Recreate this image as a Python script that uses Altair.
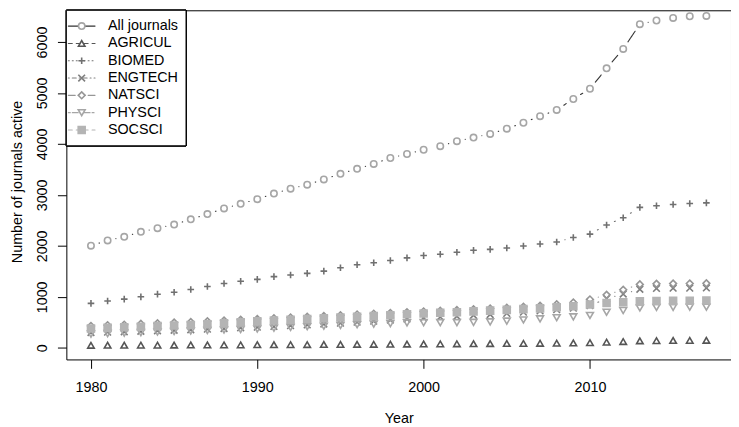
import altair as alt
import pandas as pd
import numpy as np

# ---------------- data ----------------
years = list(range(1980, 2018))
series_names = ["All journals", "AGRICUL", "BIOMED", "ENGTECH", "NATSCI", "PHYSCI", "SOCSCI"]

all_journals = [2004, 2107, 2178, 2275, 2347, 2418, 2521, 2624, 2735, 2825,
                2916, 3026, 3123, 3200, 3304, 3414, 3511, 3608, 3724, 3802,
                3886, 3956, 4054, 4125, 4196, 4299, 4415, 4545, 4667, 4881,
                5082, 5482, 5864, 6349, 6421, 6472, 6504, 6510]
agricul = [50, 51, 52, 53, 54, 55, 56, 57, 58, 59,
           61, 62, 63, 64, 66, 67, 69, 70, 72, 74,
           76, 78, 80, 82, 84, 86, 88, 90, 93, 97,
           102, 112, 124, 138, 142, 145, 147, 148]
biomed = [873, 918, 956, 1001, 1053, 1092, 1144, 1203, 1261, 1306,
          1344, 1397, 1428, 1461, 1505, 1571, 1629, 1668, 1713, 1765,
          1810, 1835, 1874, 1913, 1932, 1959, 1998, 2037, 2076, 2165,
          2231, 2411, 2553, 2755, 2786, 2813, 2832, 2844]
engtech = [300, 308, 316, 325, 335, 345, 355, 367, 380, 393,
           405, 420, 435, 450, 468, 485, 505, 525, 545, 565,
           590, 605, 620, 640, 655, 675, 700, 725, 750, 780,
           830, 965, 1055, 1150, 1165, 1170, 1172, 1175]
natsci = [430, 445, 455, 470, 480, 495, 505, 520, 535, 550,
          565, 580, 595, 610, 625, 640, 655, 670, 685, 700,
          715, 725, 740, 755, 770, 785, 805, 825, 855, 890,
          950, 1040, 1140, 1245, 1255, 1260, 1262, 1265]
physci = [270, 280, 290, 300, 310, 320, 330, 340, 350, 360,
          370, 385, 400, 415, 425, 440, 455, 465, 475, 490,
          495, 495, 495, 500, 510, 525, 548, 568, 592, 608,
          635, 698, 732, 782, 792, 795, 797, 798]
socsci = [380, 392, 403, 415, 426, 438, 450, 462, 480, 500,
          520, 535, 550, 565, 580, 595, 610, 625, 640, 660,
          675, 690, 700, 715, 730, 745, 760, 775, 795, 815,
          850, 880, 895, 912, 918, 922, 925, 928]

series_values = [all_journals, agricul, biomed, engtech, natsci, physci, socsci]

x_ticks = [1980, 1990, 2000, 2010]
y_ticks = [0, 1000, 2000, 3000, 4000, 5000, 6000]

# ---------------- styles ----------------
point_colors = ["#a6a6a6", "#555555", "#707070", "#7e7e7e", "#969696", "#a6a6a6", "#b4b4b4"]
line_colors = ["#333333", "#555555", "#707070", "#7e7e7e", "#969696", "#a6a6a6", "#b4b4b4"]
fills = ["transparent", "transparent", "transparent", "transparent", "transparent", "transparent", "#b4b4b4"]
shapes = ["circle", "triangle-up", "M-1,0L1,0M0,-1L0,1", "M-1,-1L1,1M-1,1L1,-1",
          "diamond", "triangle-down", "square"]
sizes = [42, 50, 64, 40, 72, 52, 40]
dashes = [[1, 0], [4, 4], [1, 3], [1, 3, 4, 3], [7, 3], [2, 2, 6, 2], [4, 4]]

FONT = "Liberation Sans"
FS = 14.5
W, H = 672, 353
X_DOMAIN = [1978.52, 2018.48]
Y_DOMAIN = [-227, 6621]
GAP = 8.6  # px gap around each point (R type="b")

# ---------------- tables ----------------
df = pd.DataFrame([
    {"series": n, "year": y, "value": v}
    for n, vals in zip(series_names, series_values)
    for y, v in zip(years, vals)
])

sx = W / (X_DOMAIN[1] - X_DOMAIN[0])
sy = H / (Y_DOMAIN[1] - Y_DOMAIN[0])
seg_rows = []
for n, vals in zip(series_names, series_values):
    for i in range(len(years) - 1):
        x1, x2 = years[i], years[i + 1]
        v1, v2 = vals[i], vals[i + 1]
        L = np.hypot((x2 - x1) * sx, (v2 - v1) * sy)
        if L > 2 * GAP:
            t = GAP / L
            seg_rows.append({"series": n,
                             "x": x1 + t * (x2 - x1), "y": v1 + t * (v2 - v1),
                             "x2": x2 - t * (x2 - x1), "y2": v2 - t * (v2 - v1)})
seg_df = pd.DataFrame(seg_rows)
leg_df = pd.DataFrame({"series": series_names})

# ---------------- scales / axes ----------------
xs = alt.Scale(domain=X_DOMAIN, nice=False, zero=False)
ys = alt.Scale(domain=Y_DOMAIN, nice=False, zero=False)
x_axis = alt.Axis(values=x_ticks, format="d", title="Year", grid=False, domain=False,
                  tickSize=9, tickColor="black", labelPadding=12, labelFlush=False,
                  labelFontSize=FS, labelFont=FONT, labelColor="black",
                  titleFontSize=FS, titleFont=FONT, titleColor="black",
                  titleFontWeight="normal", titleY=60, titleBaseline="middle")
y_axis = alt.Axis(values=y_ticks, format="d", title="Number of journals active",
                  grid=False, domain=False, tickSize=9, tickColor="black",
                  labelAngle=270, labelAlign="center", labelBaseline="bottom",
                  labelPadding=8, labelFontSize=FS, labelFont=FONT, labelColor="black",
                  titleFontSize=FS, titleFont=FONT, titleColor="black",
                  titleFontWeight="normal", titleAngle=270, titleX=-49, titleY=173,
                  titleAlign="center", titleBaseline="middle")

shape_enc = alt.Shape("series:N", scale=alt.Scale(domain=series_names, range=shapes), legend=None)
stroke_enc = alt.Stroke("series:N", scale=alt.Scale(domain=series_names, range=point_colors), legend=None)
fill_enc = alt.Fill("series:N", scale=alt.Scale(domain=series_names, range=fills), legend=None)
size_enc = alt.Size("series:N", scale=alt.Scale(domain=series_names, range=sizes), legend=None)
color_enc = alt.Color("series:N", scale=alt.Scale(domain=series_names, range=line_colors), legend=None)
dash_enc = alt.StrokeDash("series:N", scale=alt.Scale(domain=series_names, range=dashes), legend=None)
leg_y = alt.Y("series:N", scale=alt.Scale(type="point", domain=series_names, range=[16, 121], padding=0), axis=None)

# ---------------- layers ----------------
segs = alt.Chart(seg_df).mark_rule(strokeWidth=1.1, strokeCap="round").encode(
    x=alt.X("x:Q", scale=xs, axis=x_axis),
    y=alt.Y("y:Q", scale=ys, axis=None),
    x2="x2:Q", y2="y2:Q",
    color=color_enc, strokeDash=dash_enc,
)

points = alt.Chart(df).mark_point(opacity=1, strokeWidth=1.6, filled=False).encode(
    x=alt.X("year:Q", scale=xs, axis=x_axis),
    y=alt.Y("value:Q", scale=ys, axis=y_axis),
    shape=shape_enc, stroke=stroke_enc, fill=fill_enc, size=size_enc,
)

leg_box = alt.Chart(leg_df).mark_rect(fill="white", stroke="black", strokeWidth=1).encode(
    x=alt.value(0), x2=alt.value(121), y=alt.value(0), y2=alt.value(137)
)

leg_lines = alt.Chart(leg_df).mark_rule(strokeWidth=1.1, strokeCap="round").encode(
    x=alt.value(2), x2=alt.value(29), y=leg_y, color=color_enc, strokeDash=dash_enc,
)

leg_sym_bg = alt.Chart(leg_df).mark_point(opacity=1, filled=True, fill="white", strokeOpacity=0).encode(
    x=alt.value(15.5), y=leg_y, shape=shape_enc, size=size_enc,
)

leg_sym = alt.Chart(leg_df).mark_point(opacity=1, strokeWidth=1.6, filled=False).encode(
    x=alt.value(15.5), y=leg_y, shape=shape_enc, stroke=stroke_enc, fill=fill_enc, size=size_enc,
)

leg_text = alt.Chart(leg_df).mark_text(align="left", baseline="middle", font=FONT,
                                       fontSize=FS, color="black").encode(
    x=alt.value(42), y=leg_y, text="series:N",
)

chart = alt.layer(
    segs, points, leg_box, leg_lines, leg_sym_bg, leg_sym, leg_text
).resolve_scale(y="independent").properties(
    width=W, height=H,
    autosize=alt.AutoSizeParams(type="none"),
    padding={"left": 59, "top": 0, "right": 0, "bottom": 66},
    background="white",
).configure_view(stroke="black", strokeWidth=1)

chart.save("out.html", embed_options={"renderer": "svg", "actions": False})
